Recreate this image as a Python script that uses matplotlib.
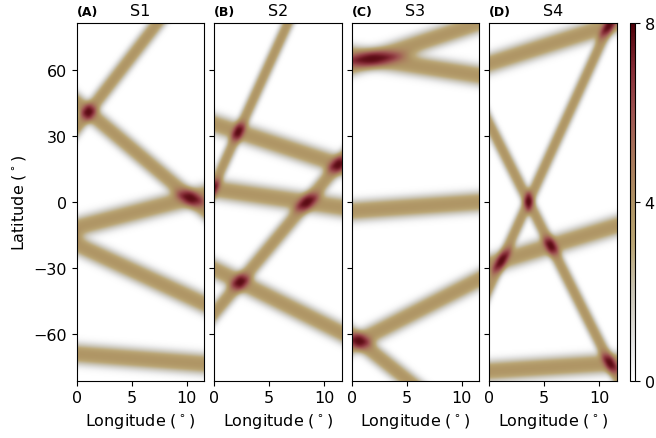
import numpy as np
import matplotlib
matplotlib.use("Agg")
import matplotlib.pyplot as plt
from matplotlib.colors import LinearSegmentedColormap

# ---------------- data ----------------
panel_letters = ["(A)", "(B)", "(C)", "(D)"]
panel_titles = ["S1", "S2", "S3", "S4"]

# each track: (lon0, lat0, lon1, lat1) -- two points on a straight band
tracks_S1 = [(1.03, 41.0, 10.3, 1.8),
             (1.03, 41.0, 7.3, 81.6),
             (0.0, -11.5, 10.3, 1.8),
             (0.0, -19.5, 11.6, -46.5),
             (0.0, -69.3, 11.6, -73.8)]
tracks_S2 = [(2.18, 31.8, 6.73, 81.8),
             (0.0, 35.6, 11.58, 16.6),
             (0.0, 5.9, 11.58, -2.4),
             (2.33, -36.7, 10.97, 15.1),
             (0.0, -30.6, 11.58, -59.6)]
tracks_S3 = [(1.82, 65.3, 10.9, 80.6),
             (1.82, 65.3, 11.58, 57.7),
             (0.0, -4.1, 11.58, 0.0),
             (0.61, -63.4, 11.58, -35.2),
             (0.61, -63.4, 5.15, -81.6)]
tracks_S4 = [(0.0, 63.1, 9.0, 77.5),
             (10.88, 80.3, 1.12, -26.8),
             (3.61, -0.15, 10.97, -73.3),
             (1.12, -26.8, 11.58, -10.8),
             (0.0, -77.1, 11.58, -73.3)]
all_tracks = [tracks_S1, tracks_S2, tracks_S3, tracks_S4]

band_peak = 3.85
lon_range = (0.0, 11.6)
lat_range = (-81.5, 81.5)
x_ticks = [0, 5, 10]
y_ticks = [-60, -30, 0, 30, 60]
cbar_ticks = [0, 4, 8]

# smoothing widths of the bands (degrees) and profile exponent
r_lon = 0.40
r_lat = 4.85
p_exp = 2.6

lon = np.linspace(lon_range[0], lon_range[1], 300)
lat = np.linspace(lat_range[0], lat_range[1], 700)
LON, LAT = np.meshgrid(lon, lat)


def density(tracks):
    u = LON / r_lon
    v = LAT / r_lat
    z = np.zeros_like(LON)
    for (x0, y0, x1, y1) in tracks:
        u0, v0 = x0 / r_lon, y0 / r_lat
        du, dv = (x1 - x0) / r_lon, (y1 - y0) / r_lat
        n = np.hypot(du, dv)
        d = np.abs((u - u0) * dv - (v - v0) * du) / n
        z += band_peak * np.exp(-d ** p_exp)
    return z

cmap = LinearSegmentedColormap.from_list("bilbao_like", [
    (0.000, (1.00, 1.00, 1.00)),
    (0.100, (0.90, 0.90, 0.90)),
    (0.250, (0.79, 0.77, 0.71)),
    (0.380, (0.73, 0.65, 0.46)),
    (0.480, (0.69, 0.59, 0.40)),
    (0.625, (0.66, 0.47, 0.36)),
    (0.750, (0.62, 0.33, 0.32)),
    (0.875, (0.52, 0.17, 0.21)),
    (1.000, (0.30, 0.00, 0.03)),
])

plt.rcParams['font.family'] = ['DejaVu Sans']
fs = 11.5
fig = plt.figure(figsize=(6.56, 4.39), dpi=100)

lefts = [76.7, 214.0, 351.7, 489.0]
W, H = 656.0, 439.0
ax_w = 127.6 / W
bottom = 1 - 381.7 / H
height = (381.7 - 24.3) / H

for i, tracks in enumerate(all_tracks):
    ax = fig.add_axes([lefts[i] / W, bottom, ax_w, height])
    z = density(tracks)
    im = ax.imshow(z, origin='lower', extent=[lon_range[0], lon_range[1], lat_range[0], lat_range[1]],
                   aspect='auto', cmap=cmap, vmin=0, vmax=8, interpolation='bilinear')
    ax.set_xlim(*lon_range)
    ax.set_ylim(*lat_range)
    ax.set_xticks(x_ticks)
    ax.set_yticks(y_ticks)
    ax.tick_params(labelsize=fs)
    if i > 0:
        ax.set_yticklabels([])
    else:
        ax.set_ylabel(r'Latitude ($^\circ$)', fontsize=fs)
    ax.set_xlabel(r'Longitude ($^\circ$)', fontsize=fs)
    ax.set_title(panel_letters[i], loc='left', fontweight='bold', fontsize=9)
    ax.set_title(panel_titles[i], loc='center', fontsize=fs)

cax = fig.add_axes([630 / W, bottom, 5 / W, height])
cb = fig.colorbar(im, cax=cax, ticks=cbar_ticks)
cb.ax.tick_params(labelsize=fs)

fig.savefig("out.png", dpi=100)
